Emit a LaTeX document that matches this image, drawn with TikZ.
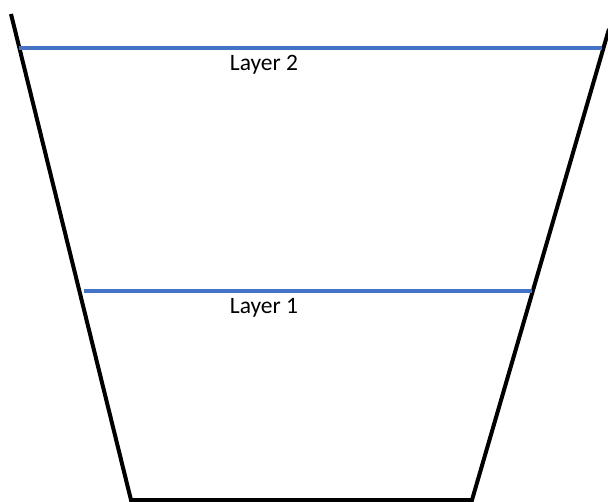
\documentclass[tikz,border=0pt]{standalone}
\usepackage{fontspec}
\setmainfont{Carlito}
\definecolor{layerblue}{RGB}{68,114,196}
\tikzset{
  wall/.style={line width=4pt, black},
  layerline/.style={line width=3.5pt, layerblue},
  layerlabel/.style={font=\fontsize{23.5}{28}\selectfont, anchor=base, inner sep=0pt}
}
\begin{document}
\begin{tikzpicture}[x=1pt, y=-1pt]
    \useasboundingbox (0,0) rectangle (608,502);
    % Container walls
    \coordinate (tl) at (11,14);
    \coordinate (bl) at (131,500);
    \coordinate (br) at (472,500);
    \coordinate (tr) at (609,29);
    \draw[wall] (tl) -- (bl) -- (br) -- (tr);

    % Layer 2
    \coordinate (l2a) at (19,48);
    \coordinate (l2b) at (602,48);
    \draw[layerline] (l2a) -- (l2b);
    \node[layerlabel] (lab2) at (264,71) {Layer 2};

    % Layer 1
    \coordinate (l1a) at (84,291);
    \coordinate (l1b) at (532,291);
    \draw[layerline] (l1a) -- (l1b);
    \node[layerlabel] (lab1) at (264,314) {Layer 1};
\end{tikzpicture}
\end{document}
